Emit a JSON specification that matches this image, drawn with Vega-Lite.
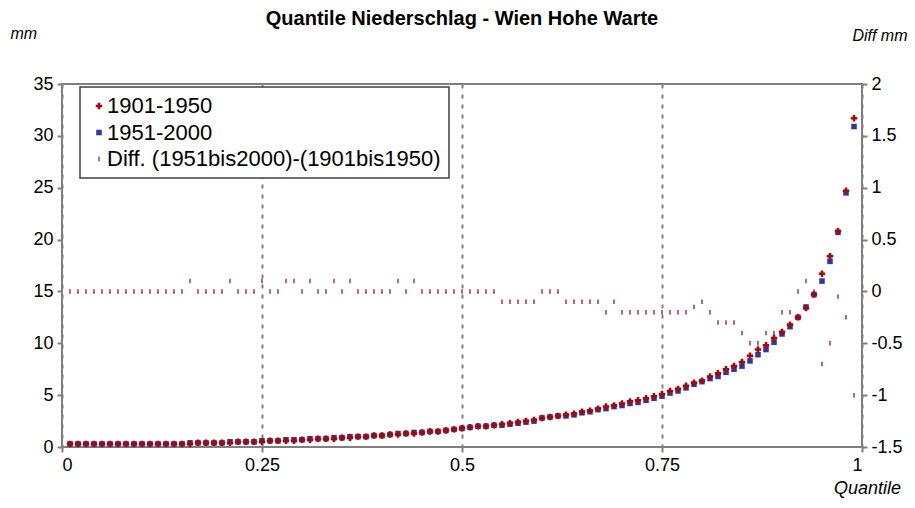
{
  "$schema": "https://vega.github.io/schema/vega-lite/v6.json",
  "width": 800,
  "height": 363,
  "autosize": {"type": "none"},
  "padding": {"left": 62, "top": 84, "right": 53, "bottom": 61},
  "background": "white",
  "config": {
    "font": "Liberation Sans",
    "view": {"stroke": "#808080", "strokeWidth": 2},
    "axis": {"labelFont": "Liberation Sans", "labelFontSize": 18, "labelColor": "#000000", "domain": false, "tickColor": "#808080", "tickWidth": 2, "tickSize": 5, "titleFont": "Liberation Sans", "titleFontStyle": "italic", "titleFontWeight": "normal", "titleFontSize": 16, "titleColor": "#000000"},
    "legend": {"orient": "none", "legendX": 18, "legendY": 3, "fillColor": "#ffffff", "strokeColor": "#404040", "strokeWidth": 1.5, "padding": 8, "rowPadding": 4.5, "labelFont": "Liberation Sans", "labelFontSize": 22, "labelColor": "#000000", "labelOffset": -3, "labelLimit": 600}
  },
  "title": {"text": "Quantile Niederschlag - Wien Hohe Warte", "font": "Liberation Sans", "fontSize": 20, "fontWeight": "bold", "color": "#000000", "anchor": "middle", "frame": "group", "offset": -4},
  "datasets": {
    "pts": [
      {"q":0.01,"s":"1901-1950","v":0.3},{"q":0.02,"s":"1901-1950","v":0.3},{"q":0.03,"s":"1901-1950","v":0.3},{"q":0.04,"s":"1901-1950","v":0.3},{"q":0.05,"s":"1901-1950","v":0.3},{"q":0.06,"s":"1901-1950","v":0.3},{"q":0.07,"s":"1901-1950","v":0.3},{"q":0.08,"s":"1901-1950","v":0.3},{"q":0.09,"s":"1901-1950","v":0.3},{"q":0.10,"s":"1901-1950","v":0.3},
      {"q":0.11,"s":"1901-1950","v":0.3},{"q":0.12,"s":"1901-1950","v":0.3},{"q":0.13,"s":"1901-1950","v":0.3},{"q":0.14,"s":"1901-1950","v":0.3},{"q":0.15,"s":"1901-1950","v":0.3},{"q":0.16,"s":"1901-1950","v":0.3},{"q":0.17,"s":"1901-1950","v":0.4},{"q":0.18,"s":"1901-1950","v":0.4},{"q":0.19,"s":"1901-1950","v":0.4},{"q":0.20,"s":"1901-1950","v":0.4},
      {"q":0.21,"s":"1901-1950","v":0.4},{"q":0.22,"s":"1901-1950","v":0.5},{"q":0.23,"s":"1901-1950","v":0.5},{"q":0.24,"s":"1901-1950","v":0.5},{"q":0.25,"s":"1901-1950","v":0.5},{"q":0.26,"s":"1901-1950","v":0.6},{"q":0.27,"s":"1901-1950","v":0.6},{"q":0.28,"s":"1901-1950","v":0.6},{"q":0.29,"s":"1901-1950","v":0.6},{"q":0.30,"s":"1901-1950","v":0.7},
      {"q":0.31,"s":"1901-1950","v":0.7},{"q":0.32,"s":"1901-1950","v":0.8},{"q":0.33,"s":"1901-1950","v":0.8},{"q":0.34,"s":"1901-1950","v":0.8},{"q":0.35,"s":"1901-1950","v":0.9},{"q":0.36,"s":"1901-1950","v":0.9},{"q":0.37,"s":"1901-1950","v":1.0},{"q":0.38,"s":"1901-1950","v":1.0},{"q":0.39,"s":"1901-1950","v":1.1},{"q":0.40,"s":"1901-1950","v":1.1},
      {"q":0.41,"s":"1901-1950","v":1.2},{"q":0.42,"s":"1901-1950","v":1.2},{"q":0.43,"s":"1901-1950","v":1.3},{"q":0.44,"s":"1901-1950","v":1.3},{"q":0.45,"s":"1901-1950","v":1.4},{"q":0.46,"s":"1901-1950","v":1.5},{"q":0.47,"s":"1901-1950","v":1.5},{"q":0.48,"s":"1901-1950","v":1.6},{"q":0.49,"s":"1901-1950","v":1.7},{"q":0.50,"s":"1901-1950","v":1.8},
      {"q":0.51,"s":"1901-1950","v":1.9},{"q":0.52,"s":"1901-1950","v":2.0},{"q":0.53,"s":"1901-1950","v":2.0},{"q":0.54,"s":"1901-1950","v":2.1},{"q":0.55,"s":"1901-1950","v":2.2},{"q":0.56,"s":"1901-1950","v":2.3},{"q":0.57,"s":"1901-1950","v":2.4},{"q":0.58,"s":"1901-1950","v":2.5},{"q":0.59,"s":"1901-1950","v":2.6},{"q":0.60,"s":"1901-1950","v":2.8},
      {"q":0.61,"s":"1901-1950","v":2.9},{"q":0.62,"s":"1901-1950","v":3.0},{"q":0.63,"s":"1901-1950","v":3.1},{"q":0.64,"s":"1901-1950","v":3.2},{"q":0.65,"s":"1901-1950","v":3.4},{"q":0.66,"s":"1901-1950","v":3.5},{"q":0.67,"s":"1901-1950","v":3.7},{"q":0.68,"s":"1901-1950","v":3.9},{"q":0.69,"s":"1901-1950","v":4.0},{"q":0.70,"s":"1901-1950","v":4.2},
      {"q":0.71,"s":"1901-1950","v":4.4},{"q":0.72,"s":"1901-1950","v":4.5},{"q":0.73,"s":"1901-1950","v":4.7},{"q":0.74,"s":"1901-1950","v":4.9},{"q":0.75,"s":"1901-1950","v":5.1},{"q":0.76,"s":"1901-1950","v":5.4},{"q":0.77,"s":"1901-1950","v":5.6},{"q":0.78,"s":"1901-1950","v":5.9},{"q":0.79,"s":"1901-1950","v":6.2},{"q":0.80,"s":"1901-1950","v":6.4},
      {"q":0.81,"s":"1901-1950","v":6.8},{"q":0.82,"s":"1901-1950","v":7.1},{"q":0.83,"s":"1901-1950","v":7.5},{"q":0.84,"s":"1901-1950","v":7.8},{"q":0.85,"s":"1901-1950","v":8.2},{"q":0.86,"s":"1901-1950","v":8.8},{"q":0.87,"s":"1901-1950","v":9.4},{"q":0.88,"s":"1901-1950","v":9.8},{"q":0.89,"s":"1901-1950","v":10.5},{"q":0.90,"s":"1901-1950","v":11.1},
      {"q":0.91,"s":"1901-1950","v":11.8},{"q":0.92,"s":"1901-1950","v":12.5},{"q":0.93,"s":"1901-1950","v":13.4},{"q":0.94,"s":"1901-1950","v":14.7},{"q":0.95,"s":"1901-1950","v":16.7},{"q":0.96,"s":"1901-1950","v":18.4},{"q":0.97,"s":"1901-1950","v":20.8},{"q":0.98,"s":"1901-1950","v":24.7},{"q":0.99,"s":"1901-1950","v":31.7},
      {"q":0.01,"s":"1951-2000","v":0.3},{"q":0.02,"s":"1951-2000","v":0.3},{"q":0.03,"s":"1951-2000","v":0.3},{"q":0.04,"s":"1951-2000","v":0.3},{"q":0.05,"s":"1951-2000","v":0.3},{"q":0.06,"s":"1951-2000","v":0.3},{"q":0.07,"s":"1951-2000","v":0.3},{"q":0.08,"s":"1951-2000","v":0.3},{"q":0.09,"s":"1951-2000","v":0.3},{"q":0.10,"s":"1951-2000","v":0.3},
      {"q":0.11,"s":"1951-2000","v":0.3},{"q":0.12,"s":"1951-2000","v":0.3},{"q":0.13,"s":"1951-2000","v":0.3},{"q":0.14,"s":"1951-2000","v":0.3},{"q":0.15,"s":"1951-2000","v":0.3},{"q":0.16,"s":"1951-2000","v":0.4},{"q":0.17,"s":"1951-2000","v":0.4},{"q":0.18,"s":"1951-2000","v":0.4},{"q":0.19,"s":"1951-2000","v":0.4},{"q":0.20,"s":"1951-2000","v":0.4},
      {"q":0.21,"s":"1951-2000","v":0.5},{"q":0.22,"s":"1951-2000","v":0.5},{"q":0.23,"s":"1951-2000","v":0.5},{"q":0.24,"s":"1951-2000","v":0.5},{"q":0.25,"s":"1951-2000","v":0.6},{"q":0.26,"s":"1951-2000","v":0.6},{"q":0.27,"s":"1951-2000","v":0.6},{"q":0.28,"s":"1951-2000","v":0.7},{"q":0.29,"s":"1951-2000","v":0.7},{"q":0.30,"s":"1951-2000","v":0.7},
      {"q":0.31,"s":"1951-2000","v":0.8},{"q":0.32,"s":"1951-2000","v":0.8},{"q":0.33,"s":"1951-2000","v":0.8},{"q":0.34,"s":"1951-2000","v":0.9},{"q":0.35,"s":"1951-2000","v":0.9},{"q":0.36,"s":"1951-2000","v":1.0},{"q":0.37,"s":"1951-2000","v":1.0},{"q":0.38,"s":"1951-2000","v":1.0},{"q":0.39,"s":"1951-2000","v":1.1},{"q":0.40,"s":"1951-2000","v":1.1},
      {"q":0.41,"s":"1951-2000","v":1.2},{"q":0.42,"s":"1951-2000","v":1.3},{"q":0.43,"s":"1951-2000","v":1.3},{"q":0.44,"s":"1951-2000","v":1.4},{"q":0.45,"s":"1951-2000","v":1.4},{"q":0.46,"s":"1951-2000","v":1.5},{"q":0.47,"s":"1951-2000","v":1.5},{"q":0.48,"s":"1951-2000","v":1.6},{"q":0.49,"s":"1951-2000","v":1.7},{"q":0.50,"s":"1951-2000","v":1.8},
      {"q":0.51,"s":"1951-2000","v":1.9},{"q":0.52,"s":"1951-2000","v":2.0},{"q":0.53,"s":"1951-2000","v":2.0},{"q":0.54,"s":"1951-2000","v":2.1},{"q":0.55,"s":"1951-2000","v":2.1},{"q":0.56,"s":"1951-2000","v":2.2},{"q":0.57,"s":"1951-2000","v":2.3},{"q":0.58,"s":"1951-2000","v":2.4},{"q":0.59,"s":"1951-2000","v":2.5},{"q":0.60,"s":"1951-2000","v":2.8},
      {"q":0.61,"s":"1951-2000","v":2.9},{"q":0.62,"s":"1951-2000","v":3.0},{"q":0.63,"s":"1951-2000","v":3.0},{"q":0.64,"s":"1951-2000","v":3.1},{"q":0.65,"s":"1951-2000","v":3.3},{"q":0.66,"s":"1951-2000","v":3.4},{"q":0.67,"s":"1951-2000","v":3.6},{"q":0.68,"s":"1951-2000","v":3.7},{"q":0.69,"s":"1951-2000","v":3.9},{"q":0.70,"s":"1951-2000","v":4.0},
      {"q":0.71,"s":"1951-2000","v":4.2},{"q":0.72,"s":"1951-2000","v":4.3},{"q":0.73,"s":"1951-2000","v":4.5},{"q":0.74,"s":"1951-2000","v":4.7},{"q":0.75,"s":"1951-2000","v":4.9},{"q":0.76,"s":"1951-2000","v":5.2},{"q":0.77,"s":"1951-2000","v":5.4},{"q":0.78,"s":"1951-2000","v":5.7},{"q":0.79,"s":"1951-2000","v":6.05},{"q":0.80,"s":"1951-2000","v":6.3},
      {"q":0.81,"s":"1951-2000","v":6.6},{"q":0.82,"s":"1951-2000","v":6.8},{"q":0.83,"s":"1951-2000","v":7.2},{"q":0.84,"s":"1951-2000","v":7.5},{"q":0.85,"s":"1951-2000","v":7.8},{"q":0.86,"s":"1951-2000","v":8.3},{"q":0.87,"s":"1951-2000","v":8.9},{"q":0.88,"s":"1951-2000","v":9.4},{"q":0.89,"s":"1951-2000","v":10.1},{"q":0.90,"s":"1951-2000","v":10.9},
      {"q":0.91,"s":"1951-2000","v":11.6},{"q":0.92,"s":"1951-2000","v":12.5},{"q":0.93,"s":"1951-2000","v":13.5},{"q":0.94,"s":"1951-2000","v":14.7},{"q":0.95,"s":"1951-2000","v":16.0},{"q":0.96,"s":"1951-2000","v":17.9},{"q":0.97,"s":"1951-2000","v":20.7},{"q":0.98,"s":"1951-2000","v":24.5},{"q":0.99,"s":"1951-2000","v":30.9}
    ],
    "diff": [
      {"q":0.01,"s":"Diff. (1951bis2000)-(1901bis1950)","d":0},{"q":0.02,"s":"Diff. (1951bis2000)-(1901bis1950)","d":0},{"q":0.03,"s":"Diff. (1951bis2000)-(1901bis1950)","d":0},{"q":0.04,"s":"Diff. (1951bis2000)-(1901bis1950)","d":0},{"q":0.05,"s":"Diff. (1951bis2000)-(1901bis1950)","d":0},{"q":0.06,"s":"Diff. (1951bis2000)-(1901bis1950)","d":0},{"q":0.07,"s":"Diff. (1951bis2000)-(1901bis1950)","d":0},{"q":0.08,"s":"Diff. (1951bis2000)-(1901bis1950)","d":0},{"q":0.09,"s":"Diff. (1951bis2000)-(1901bis1950)","d":0},{"q":0.10,"s":"Diff. (1951bis2000)-(1901bis1950)","d":0},
      {"q":0.11,"s":"Diff. (1951bis2000)-(1901bis1950)","d":0},{"q":0.12,"s":"Diff. (1951bis2000)-(1901bis1950)","d":0},{"q":0.13,"s":"Diff. (1951bis2000)-(1901bis1950)","d":0},{"q":0.14,"s":"Diff. (1951bis2000)-(1901bis1950)","d":0},{"q":0.15,"s":"Diff. (1951bis2000)-(1901bis1950)","d":0},{"q":0.16,"s":"Diff. (1951bis2000)-(1901bis1950)","d":0.1},{"q":0.17,"s":"Diff. (1951bis2000)-(1901bis1950)","d":0},{"q":0.18,"s":"Diff. (1951bis2000)-(1901bis1950)","d":0},{"q":0.19,"s":"Diff. (1951bis2000)-(1901bis1950)","d":0},{"q":0.20,"s":"Diff. (1951bis2000)-(1901bis1950)","d":0},
      {"q":0.21,"s":"Diff. (1951bis2000)-(1901bis1950)","d":0.1},{"q":0.22,"s":"Diff. (1951bis2000)-(1901bis1950)","d":0},{"q":0.23,"s":"Diff. (1951bis2000)-(1901bis1950)","d":0},{"q":0.24,"s":"Diff. (1951bis2000)-(1901bis1950)","d":0},{"q":0.25,"s":"Diff. (1951bis2000)-(1901bis1950)","d":0.1},{"q":0.26,"s":"Diff. (1951bis2000)-(1901bis1950)","d":0},{"q":0.27,"s":"Diff. (1951bis2000)-(1901bis1950)","d":0},{"q":0.28,"s":"Diff. (1951bis2000)-(1901bis1950)","d":0.1},{"q":0.29,"s":"Diff. (1951bis2000)-(1901bis1950)","d":0.1},{"q":0.30,"s":"Diff. (1951bis2000)-(1901bis1950)","d":0},
      {"q":0.31,"s":"Diff. (1951bis2000)-(1901bis1950)","d":0.1},{"q":0.32,"s":"Diff. (1951bis2000)-(1901bis1950)","d":0},{"q":0.33,"s":"Diff. (1951bis2000)-(1901bis1950)","d":0},{"q":0.34,"s":"Diff. (1951bis2000)-(1901bis1950)","d":0.1},{"q":0.35,"s":"Diff. (1951bis2000)-(1901bis1950)","d":0},{"q":0.36,"s":"Diff. (1951bis2000)-(1901bis1950)","d":0.1},{"q":0.37,"s":"Diff. (1951bis2000)-(1901bis1950)","d":0},{"q":0.38,"s":"Diff. (1951bis2000)-(1901bis1950)","d":0},{"q":0.39,"s":"Diff. (1951bis2000)-(1901bis1950)","d":0},{"q":0.40,"s":"Diff. (1951bis2000)-(1901bis1950)","d":0},
      {"q":0.41,"s":"Diff. (1951bis2000)-(1901bis1950)","d":0},{"q":0.42,"s":"Diff. (1951bis2000)-(1901bis1950)","d":0.1},{"q":0.43,"s":"Diff. (1951bis2000)-(1901bis1950)","d":0},{"q":0.44,"s":"Diff. (1951bis2000)-(1901bis1950)","d":0.1},{"q":0.45,"s":"Diff. (1951bis2000)-(1901bis1950)","d":0},{"q":0.46,"s":"Diff. (1951bis2000)-(1901bis1950)","d":0},{"q":0.47,"s":"Diff. (1951bis2000)-(1901bis1950)","d":0},{"q":0.48,"s":"Diff. (1951bis2000)-(1901bis1950)","d":0},{"q":0.49,"s":"Diff. (1951bis2000)-(1901bis1950)","d":0},{"q":0.50,"s":"Diff. (1951bis2000)-(1901bis1950)","d":0},
      {"q":0.51,"s":"Diff. (1951bis2000)-(1901bis1950)","d":0},{"q":0.52,"s":"Diff. (1951bis2000)-(1901bis1950)","d":0},{"q":0.53,"s":"Diff. (1951bis2000)-(1901bis1950)","d":0},{"q":0.54,"s":"Diff. (1951bis2000)-(1901bis1950)","d":0},{"q":0.55,"s":"Diff. (1951bis2000)-(1901bis1950)","d":-0.1},{"q":0.56,"s":"Diff. (1951bis2000)-(1901bis1950)","d":-0.1},{"q":0.57,"s":"Diff. (1951bis2000)-(1901bis1950)","d":-0.1},{"q":0.58,"s":"Diff. (1951bis2000)-(1901bis1950)","d":-0.1},{"q":0.59,"s":"Diff. (1951bis2000)-(1901bis1950)","d":-0.1},{"q":0.60,"s":"Diff. (1951bis2000)-(1901bis1950)","d":0},
      {"q":0.61,"s":"Diff. (1951bis2000)-(1901bis1950)","d":0},{"q":0.62,"s":"Diff. (1951bis2000)-(1901bis1950)","d":0},{"q":0.63,"s":"Diff. (1951bis2000)-(1901bis1950)","d":-0.1},{"q":0.64,"s":"Diff. (1951bis2000)-(1901bis1950)","d":-0.1},{"q":0.65,"s":"Diff. (1951bis2000)-(1901bis1950)","d":-0.1},{"q":0.66,"s":"Diff. (1951bis2000)-(1901bis1950)","d":-0.1},{"q":0.67,"s":"Diff. (1951bis2000)-(1901bis1950)","d":-0.1},{"q":0.68,"s":"Diff. (1951bis2000)-(1901bis1950)","d":-0.2},{"q":0.69,"s":"Diff. (1951bis2000)-(1901bis1950)","d":-0.1},{"q":0.70,"s":"Diff. (1951bis2000)-(1901bis1950)","d":-0.2},
      {"q":0.71,"s":"Diff. (1951bis2000)-(1901bis1950)","d":-0.2},{"q":0.72,"s":"Diff. (1951bis2000)-(1901bis1950)","d":-0.2},{"q":0.73,"s":"Diff. (1951bis2000)-(1901bis1950)","d":-0.2},{"q":0.74,"s":"Diff. (1951bis2000)-(1901bis1950)","d":-0.2},{"q":0.75,"s":"Diff. (1951bis2000)-(1901bis1950)","d":-0.2},{"q":0.76,"s":"Diff. (1951bis2000)-(1901bis1950)","d":-0.2},{"q":0.77,"s":"Diff. (1951bis2000)-(1901bis1950)","d":-0.2},{"q":0.78,"s":"Diff. (1951bis2000)-(1901bis1950)","d":-0.2},{"q":0.79,"s":"Diff. (1951bis2000)-(1901bis1950)","d":-0.15},{"q":0.80,"s":"Diff. (1951bis2000)-(1901bis1950)","d":-0.1},
      {"q":0.81,"s":"Diff. (1951bis2000)-(1901bis1950)","d":-0.2},{"q":0.82,"s":"Diff. (1951bis2000)-(1901bis1950)","d":-0.3},{"q":0.83,"s":"Diff. (1951bis2000)-(1901bis1950)","d":-0.3},{"q":0.84,"s":"Diff. (1951bis2000)-(1901bis1950)","d":-0.3},{"q":0.85,"s":"Diff. (1951bis2000)-(1901bis1950)","d":-0.4},{"q":0.86,"s":"Diff. (1951bis2000)-(1901bis1950)","d":-0.5},{"q":0.87,"s":"Diff. (1951bis2000)-(1901bis1950)","d":-0.5},{"q":0.88,"s":"Diff. (1951bis2000)-(1901bis1950)","d":-0.4},{"q":0.89,"s":"Diff. (1951bis2000)-(1901bis1950)","d":-0.4},{"q":0.90,"s":"Diff. (1951bis2000)-(1901bis1950)","d":-0.2},
      {"q":0.91,"s":"Diff. (1951bis2000)-(1901bis1950)","d":-0.2},{"q":0.92,"s":"Diff. (1951bis2000)-(1901bis1950)","d":0},{"q":0.93,"s":"Diff. (1951bis2000)-(1901bis1950)","d":0.1},{"q":0.94,"s":"Diff. (1951bis2000)-(1901bis1950)","d":0},{"q":0.95,"s":"Diff. (1951bis2000)-(1901bis1950)","d":-0.7},{"q":0.96,"s":"Diff. (1951bis2000)-(1901bis1950)","d":-0.5},{"q":0.97,"s":"Diff. (1951bis2000)-(1901bis1950)","d":-0.05},{"q":0.98,"s":"Diff. (1951bis2000)-(1901bis1950)","d":-0.25},{"q":0.99,"s":"Diff. (1951bis2000)-(1901bis1950)","d":-1.0}
    ]
  },
  "layer": [
    {
      "data": {"name": "diff"},
      "mark": {"type": "point", "filled": true, "opacity": 1},
      "encoding": {
        "x": {"field": "q", "type": "quantitative", "scale": {"domain": [0, 1], "nice": false, "zero": false},
          "axis": {"values": [0, 0.25, 0.5, 0.75, 1], "labelExpr": "datum.value + ''", "grid": true, "gridDash": [4, 6], "gridColor": "#808080", "gridWidth": 2, "labelPadding": 4, "title": "Quantile", "titleAnchor": "end", "titleAlign": "center", "titleX": 805, "titleY": 41, "titleBaseline": "middle", "titleFontSize": 18}},
        "y": {"field": "d", "type": "quantitative", "scale": {"domain": [-1.5, 2], "nice": false, "zero": false},
          "axis": {"orient": "right", "values": [-1.5, -1, -0.5, 0, 0.5, 1, 1.5, 2], "labelExpr": "datum.value + ''", "grid": false, "labelPadding": 4, "title": "Diff mm", "titleAngle": 0, "titleAlign": "right", "titleBaseline": "middle", "titleX": 45, "titleY": -49}},
        "color": {"field": "s", "type": "nominal", "scale": {"domain": ["1901-1950", "1951-2000", "Diff. (1951bis2000)-(1901bis1950)"], "range": ["#9b0d0d", "#3535a5", "#a8386f"]}, "legend": {"title": null, "orient": "none", "legendX": 18, "legendY": 3}},
        "shape": {"field": "s", "type": "nominal", "scale": {"domain": ["1901-1950", "1951-2000", "Diff. (1951bis2000)-(1901bis1950)"], "range": ["cross", "square", "M-0.35,-1L0.35,-1L0.35,1L-0.35,1Z"]}, "legend": {"title": null, "orient": "none", "legendX": 18, "legendY": 3}},
        "size": {"field": "s", "type": "nominal", "scale": {"domain": ["1901-1950", "1951-2000", "Diff. (1951bis2000)-(1901bis1950)"], "range": [42, 20, 18]}, "legend": {"title": null, "orient": "none", "legendX": 18, "legendY": 3}}
      }
    },
    {
      "data": {"name": "pts"},
      "transform": [{"calculate": "datum.s == '1951-2000' ? 0 : 1", "as": "ord"}],
      "mark": {"type": "point", "filled": true, "opacity": 1},
      "encoding": {
        "x": {"field": "q", "type": "quantitative"},
        "y": {"field": "v", "type": "quantitative", "scale": {"domain": [0, 35], "nice": false},
          "axis": {"orient": "left", "values": [0, 5, 10, 15, 20, 25, 30, 35], "grid": false, "labelPadding": 4, "title": "mm", "titleAngle": 0, "titleAlign": "left", "titleBaseline": "middle", "titleX": -52, "titleY": -51}},
        "order": {"field": "ord", "type": "quantitative"},
        "color": {"field": "s", "type": "nominal"},
        "shape": {"field": "s", "type": "nominal"},
        "size": {"field": "s", "type": "nominal"}
      }
    }
  ],
  "resolve": {"scale": {"y": "independent"}, "axis": {"y": "independent"}}
}
